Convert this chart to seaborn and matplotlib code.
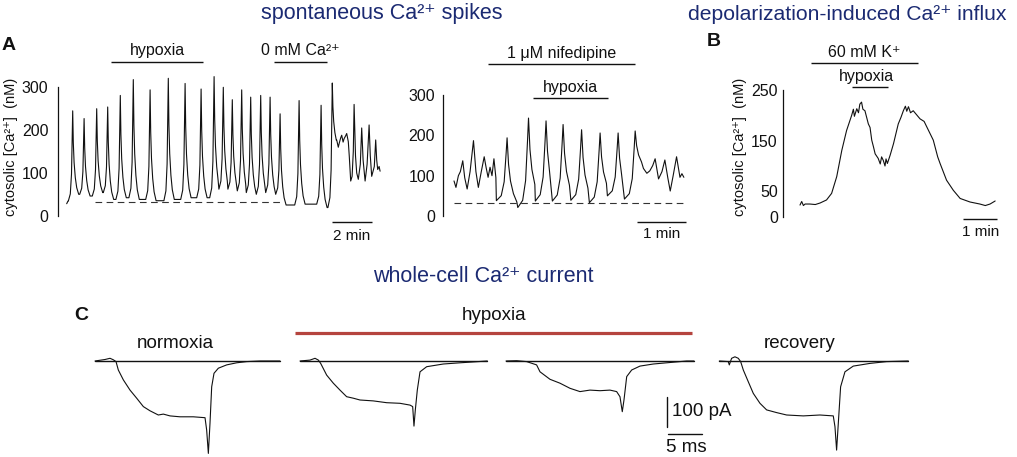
import numpy as np
import matplotlib
matplotlib.use("Agg")
import matplotlib.pyplot as plt
import seaborn as sns

# ---------------- data ----------------
# panel A, left trace (time in min, cytosolic [Ca2+] in nM)
a1_start_t = [0.0, 0.06]
a1_start_v = [28, 34]
a1_peak_t = [0.30, 0.87, 1.50, 2.05, 2.68, 3.33, 4.17, 5.08, 5.92, 6.72, 7.37,
             7.83, 8.28, 8.75, 9.20, 9.70, 10.17, 10.67, 11.62, 12.72, 13.28]
a1_peak_v = [245, 227, 250, 254, 281, 318, 294, 321, 309, 296, 325,
             300, 271, 294, 277, 281, 277, 238, 269, 258, 310]
a1_trough_v = [50, 46, 54, 38, 42, 38, 35, 38, 42, 42, 62,
               62, 58, 54, 50, 54, 50, 25, 27, 19, 165]
a1_tail_t = [13.50, 13.58, 13.63, 13.70, 13.75, 13.82, 13.87, 13.94, 14.00, 14.08,
             14.13, 14.20, 14.27, 14.33, 14.37, 14.44, 14.50, 14.58, 14.68, 14.75,
             14.82, 14.92, 15.02, 15.12, 15.18, 15.25, 15.38, 15.45, 15.50, 15.55,
             15.62, 15.67]
a1_tail_v = [177, 160, 170, 182, 188, 172, 180, 186, 192, 173,
             138, 81, 92, 150, 260, 140, 100, 85, 120, 205,
             130, 81, 120, 212, 140, 92, 115, 177, 130, 108,
             115, 104]
a1_dash_t = [1.42, 10.67]
a1_dash_v = 33
a1_hypoxia = [2.22, 6.82]
a1_zero_ca = [10.37, 13.02]

# panel A, right trace (nifedipine)
a2_pre_t = [0.00, 0.04, 0.09, 0.13, 0.18, 0.22, 0.27, 0.33, 0.40, 0.45, 0.50,
            0.56, 0.62, 0.66, 0.70, 0.74, 0.78, 0.82, 0.86]
a2_pre_v = [87, 71, 100, 110, 137, 95, 67, 110, 187, 110, 71,
            110, 147, 120, 96, 121, 100, 142, 95]
a2_start_level = 38
a2_peak_t = [1.09, 1.53, 1.89, 2.24, 2.62, 3.00, 3.37, 3.72]
a2_peak_v = [194, 243, 236, 227, 214, 206, 206, 211]
a2_trough_v = [21, 37, 37, 39, 33, 50, 42, 115]
a2_post_t = [3.89, 3.96, 4.02, 4.08, 4.13, 4.20, 4.27, 4.33, 4.39, 4.44, 4.50,
             4.57, 4.64, 4.68, 4.72]
a2_post_v = [118, 106, 112, 125, 142, 92, 110, 139, 95, 62, 100,
             147, 96, 105, 96]
a2_dash_t = [0.0, 4.76]
a2_dash_v = 33
a2_nifedipine = [0.69, 3.72]
a2_hypoxia = [1.62, 3.16]

# spike waveform (min from peak, fraction of height)
spike_dt = [-0.22, -0.12, -0.06, -0.02, 0.0, 0.03, 0.07, 0.13, 0.20, 0.30]
spike_frac = [0.0, 0.08, 0.30, 0.75, 1.0, 0.62, 0.38, 0.20, 0.08, 0.0]

# panel B, 60 mM K+
b_t = [0.00, 0.05, 0.10, 0.15, 0.29, 0.45, 0.59, 0.78, 0.93, 1.08, 1.23, 1.37,
       1.45, 1.52, 1.57, 1.60, 1.67, 1.72, 1.76, 1.81, 1.85, 1.91, 2.01, 2.06,
       2.11, 2.16, 2.21, 2.30, 2.36, 2.40, 2.45, 2.50, 2.53, 2.57, 2.65, 2.75,
       2.89, 2.97, 3.04, 3.10, 3.14, 3.19, 3.25, 3.33, 3.53, 3.65, 3.73, 3.92,
       4.05, 4.12, 4.31, 4.51, 4.71, 5.00, 5.29, 5.45, 5.59, 5.74]
b_v = [23, 30, 22, 25, 25, 24, 27, 33, 46, 79, 131, 170,
       186, 200, 212, 198, 213, 205, 222, 226, 212, 209, 183, 176,
       151, 138, 124, 115, 104, 118, 111, 100, 114, 105, 121, 144,
       183, 196, 209, 218, 208, 217, 205, 209, 193, 188, 177, 151,
       118, 105, 72, 52, 36, 29, 25, 22, 25, 31]
b_k = [0.31, 3.48]
b_hypoxia = [1.53, 2.59]

# panel C, whole-cell Ca2+ current (time in ms, current in pA)
c_norm_t = [0, 1.47, 2.21, 2.70, 3.09, 3.43, 4.17, 5.15, 6.13, 7.11, 8.09, 9.31, 10.05,
            11.03, 12.5, 14.46, 16.18, 16.42, 16.67, 16.91, 17.16, 17.5, 18.14, 19.36,
            20.83, 22.3, 24.26, 27.2]
c_norm_v = [0, 5, 9, 4, -2, -30, -63, -97, -124, -152, -166, -180, -177,
            -183, -186, -186, -189, -230, -308, -208, -86, -41, -24, -13,
            -6, -2, 0, 0]
c_hyp1_t = [0, 1.47, 2.21, 2.70, 3.04, 3.92, 4.9, 5.88, 6.86, 7.84, 8.82, 10.78,
            12.75, 14.7, 16.18, 16.57, 16.76, 16.96, 17.25, 17.65, 18.63, 21.08,
            23.53, 27.55]
c_hyp1_v = [0, 3, 9, 3, -8, -47, -74, -97, -119, -124, -130, -133,
            -139, -141, -147, -152, -217, -163, -97, -36, -19, -10,
            -6, 0]
c_hyp2_t = [0, 1.57, 3.04, 4.5, 5.0, 6.47, 7.94, 9.41, 10.88, 12.35, 13.82, 15.29,
            16.27, 16.76, 17.1, 17.35, 17.75, 18.48, 19.7, 21.67, 23.63, 26.57, 27.65]
c_hyp2_v = [0, 1, -2, -13, -36, -61, -74, -91, -102, -97, -99, -97,
            -102, -119, -169, -130, -52, -30, -17, -10, -6, 0, 0]
c_rec_t = [0, 1.32, 1.47, 1.81, 2.3, 2.79, 3.14, 3.53, 4.26, 5.0, 5.98, 6.96, 8.43,
           9.9, 12.35, 14.8, 16.76, 17.01, 17.25, 17.5, 17.84, 18.48, 19.7, 22.16,
           24.6, 27.8]
c_rec_v = [0, -2, -13, 9, 14, 9, -2, -30, -69, -108, -141, -163, -172,
           -180, -183, -180, -183, -219, -297, -208, -86, -36, -17, -8,
           -2, 0]

# ---------------- style ----------------
sns.set_theme(style="white")
plt.rcParams["font.family"] = ["Liberation Sans", "DejaVu Sans"]
plt.rcParams["mathtext.default"] = "regular"

INK = "#111111"
NAVY = "#1b2a72"
RED = "#b5443e"
W, H = 1017, 457

fig = plt.figure(figsize=(W / 100, H / 100), dpi=100)


def add_panel(box, x0, sx, y0, sy):
    # box in pixels (left, top, right, bottom); x0/y0 = pixel of data zero, sx/sy = px per unit
    l, t, r, b = box
    ax = fig.add_axes([l / W, 1 - b / H, (r - l) / W, (b - t) / H])
    ax.set_xlim((l - x0) / sx, (r - x0) / sx)
    ax.set_ylim((y0 - b) / sy, (y0 - t) / sy)
    ax.patch.set_alpha(0)
    return ax


def style_y(ax, ticks, pad):
    for s in ["top", "right", "bottom"]:
        ax.spines[s].set_visible(False)
    ax.spines["left"].set_bounds(ticks[0], ticks[-1])
    ax.spines["left"].set_color(INK)
    ax.spines["left"].set_linewidth(0.9)
    ax.set_yticks(ticks)
    ax.set_xticks([])
    ax.tick_params(axis="y", direction="in", length=4, width=0.9, labelsize=11.5,
                   pad=pad, colors=INK)


def spike_train(times, peaks, troughs, level, stop):
    tt, vv = [], []
    before = level
    for i in range(len(times)):
        nxt = times[i + 1] + spike_dt[0] if i + 1 < len(times) else stop
        after = troughs[i]
        for d, f in zip(spike_dt, spike_frac):
            if d > 0 and times[i] + d >= nxt:
                break
            base = before if d < 0 else after
            tt.append(times[i] + d)
            vv.append(base + f * (peaks[i] - base))
        before = after
    return tt, vv


def trace(ax, t, v, lw=0.8, color=INK):
    sns.lineplot(x=t, y=v, ax=ax, color=color, linewidth=lw, sort=False,
                 estimator=None, legend=False)
    for ln in ax.lines:
        ln.set_clip_on(False)


def bar(ax, span, y, label=None, ty=None, tx=None, size=11.5, color=INK, lw=1.0):
    ax.plot(span, [y, y], color=color, lw=lw, clip_on=False, solid_capstyle="butt")
    if label:
        ax.text(np.mean(span) if tx is None else tx, ty, label, ha="center",
                va="center", fontsize=size, color=INK, clip_on=False)


ylab = "cytosolic [Ca\u00b2\u207a]  (nM)"

# ---- A left
ax1 = add_panel((58.3, 40, 385, 250), 66.7, 20.0, 215.7, 0.428)
st, sv = spike_train(a1_peak_t, a1_peak_v, a1_trough_v, a1_start_v[-1], a1_tail_t[0])
trace(ax1, a1_start_t + st + a1_tail_t, a1_start_v + sv + a1_tail_v)
ax1.plot(a1_dash_t, [a1_dash_v] * 2, color="#333333", lw=0.8, ls=(0, (6, 4)))
style_y(ax1, [0, 100, 200, 300], 7)
ax1.set_ylabel(ylab, fontsize=10.5, color=INK)
ax1.yaxis.set_label_coords(-0.122, 0.49)
bar(ax1, a1_hypoxia, 360, "hypoxia", 385)
bar(ax1, a1_zero_ca, 359, "0 mM Ca\u00b2\u207a", 385)
bar(ax1, [13.27, 15.27], -15, "2 min", -48, size=11)

# ---- A right
ax2 = add_panel((443.3, 40, 690, 250), 454, 48.7, 216, 0.403)
st, sv = spike_train(a2_peak_t, a2_peak_v, a2_trough_v, a2_start_level, a2_post_t[0])
trace(ax2, a2_pre_t + st + a2_post_t, a2_pre_v + sv + a2_post_v)
ax2.plot(a2_dash_t, [a2_dash_v] * 2, color="#333333", lw=0.8, ls=(0, (6, 4)))
style_y(ax2, [0, 100, 200, 300], 6)
bar(ax2, a2_nifedipine, 376, "1 \u03bcM nifedipine", 402)
bar(ax2, a2_hypoxia, 292, "hypoxia", 320)
bar(ax2, [3.76, 4.76], -14, "1 min", -45, size=11)

# ---- B
ax3 = add_panel((782.7, 40, 1005, 250), 800, 34.0, 216.7, 0.507)
trace(ax3, b_t, b_v)
style_y(ax3, [0, 50, 150, 250], 3.5)
ax3.set_ylabel(ylab, fontsize=10.5, color=INK)
ax3.yaxis.set_label_coords(-0.16, 0.49)
bar(ax3, b_k, 303, "60 mM K\u207a", 324)
bar(ax3, b_hypoxia, 255, "hypoxia", 276, tx=1.96)
bar(ax3, [4.8, 5.8], -5, "1 min", -30, size=11)

# ---- C
c_traces = [(c_norm_t, c_norm_v), (c_hyp1_t, c_hyp1_v), (c_hyp2_t, c_hyp2_v), (c_rec_t, c_rec_v)]
c_starts = [95, 300, 506, 719.3]
c_axes = []
for (t, v), x0 in zip(c_traces, c_starts):
    ax = add_panel((x0, 300, x0 + 190, 457), x0, 6.8, 361, 0.3)
    ax.axis("off")
    ax.plot([t[0], t[-1]], [0, 0], color=INK, lw=1.0)
    trace(ax, t, v)
    c_axes.append(ax)

c_axes[0].text(11.8, 59, "normoxia", ha="center", va="center", fontsize=13.5, color=INK)
c_axes[3].text(11.8, 59, "recovery", ha="center", va="center", fontsize=13.5, color=INK)
bar(c_axes[1], [-0.74, 57.7], 92, "hypoxia", 153, size=13.5, color=RED, lw=2.3)
sb = c_axes[2]
sb.plot([23.63, 23.63], [-119, -219], color=INK, lw=1.0, clip_on=False)
sb.plot([23.78, 28.78], [-243, -243], color=INK, lw=1.0, clip_on=False)
sb.text(24.4, -168, "100 pA", ha="left", va="center", fontsize=13.5, color=INK)
sb.text(23.6, -287, "5 ms", ha="left", va="center", fontsize=13.5, color=INK)

# ---- overlay: titles and panel letters (pixel coordinates)
ov = fig.add_axes([0, 0, 1, 1])
ov.set_xlim(0, W)
ov.set_ylim(H, 0)
ov.axis("off")
ov.patch.set_alpha(0)
ov.text(261, 13, "spontaneous Ca\u00b2\u207a spikes", ha="left", va="center", fontsize=15.5, color=NAVY)
ov.text(688, 14, "depolarization-induced Ca\u00b2\u207a influx", ha="left", va="center", fontsize=15.2, color=NAVY)
ov.text(373, 276, "whole-cell Ca\u00b2\u207a current", ha="left", va="center", fontsize=15.5, color=NAVY)
for x, y, s in [(9, 46, "A"), (714, 42, "B"), (81, 315, "C")]:
    ov.text(x, y, s, ha="center", va="center", fontsize=14, fontweight="bold", color=INK)

fig.savefig("out.png", dpi=100)
